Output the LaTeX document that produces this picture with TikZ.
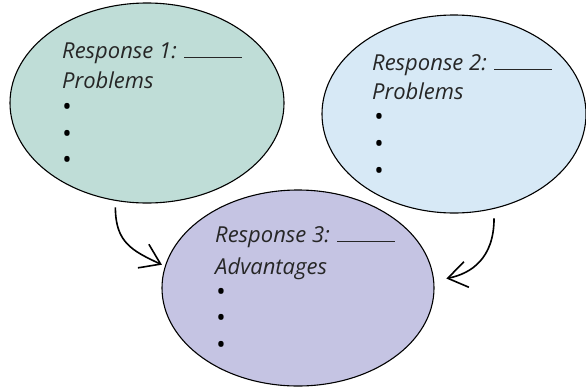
\documentclass[tikz,border=0pt]{standalone}
\usepackage{fontspec}
\setmainfont{Open Sans}
\usetikzlibrary{shapes.geometric, arrows.meta}

\definecolor{respgreen}{RGB}{191,221,215}
\definecolor{respblue}{RGB}{215,233,246}
\definecolor{resppurple}{RGB}{197,196,227}

\tikzset{
  bubble/.style={ellipse, draw, line width=1.1pt, inner sep=0pt, outer sep=0pt},
  hand/.style={anchor=base west, inner sep=0pt, text=black!85, font=\fontsize{22}{26}\selectfont\itshape},
  dot/.style={inner sep=0pt, font=\fontsize{25}{28}\selectfont},
  swing/.style={line width=1.6pt, -{Straight Barb[length=19pt, width=26pt, line width=1.6pt]}},
}

\begin{document}
\begin{tikzpicture}[x=1pt, y=-1pt]
\useasboundingbox (0,0) rectangle (586,389);

% the three bubbles
\node[bubble, fill=respgreen, minimum width=274pt, minimum height=200pt] (r1) at (147,103) {};
\node[bubble, fill=respblue, minimum width=264pt, minimum height=198pt] (r2) at (454,114) {};
\node[bubble, fill=resppurple, minimum width=272pt, minimum height=196pt] (r3) at (298,288) {};

% texts
\node[hand] (t1) at (62,58) {Response 1: \rule{58pt}{1pt}};
\node[hand] (h1) at (62,88) {Problems};
\node[hand] (t2) at (372,70) {Response 2: \rule{58pt}{1pt}};
\node[hand] (h2) at (372,99) {Problems};
\node[hand] (t3) at (215,242) {Response 3: \rule{58pt}{1pt}};
\node[hand] (h3) at (215,274) {Advantages};

\foreach \y [count=\i] in {109,136,162}
  \node[dot] (p1-\i) at (67,\y) {\textbullet};
\foreach \y [count=\i] in {119,146,173}
  \node[dot] (p2-\i) at (379,\y) {\textbullet};
\foreach \y [count=\i] in {294,320,347}
  \node[dot] (p3-\i) at (221,\y) {\textbullet};

% arrows into the bottom bubble
\draw[swing] ([yshift=-7pt]r1.252) .. controls +(0,35) and +(-30,-14) .. ([xshift=-4pt]r3.170);
\draw[swing] ([yshift=-10pt]r2.293) .. controls +(0,40) and +(25,-5) .. ([xshift=13pt]r3.4);

\end{tikzpicture}
\end{document}
